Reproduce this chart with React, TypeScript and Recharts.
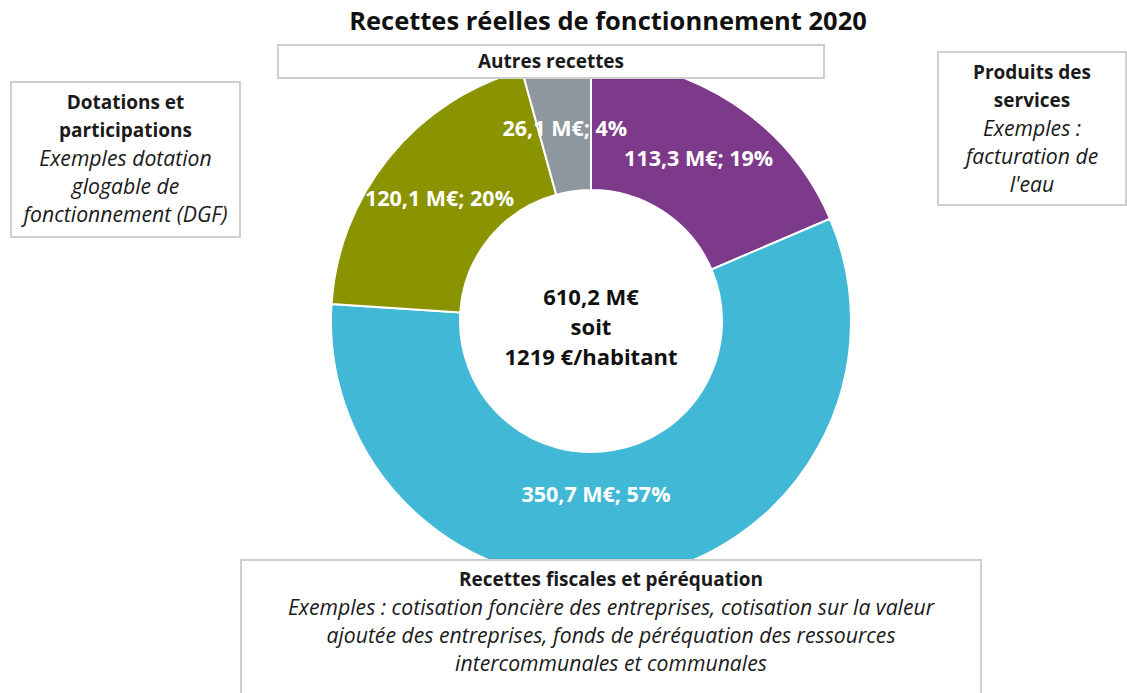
import React from 'react';
import { PieChart, Pie, Cell } from 'recharts';

const title = 'Recettes réelles de fonctionnement 2020';
const categories = [
  'Produits des services',
  'Recettes fiscales et péréquation',
  'Dotations et participations',
  'Autres recettes',
];
const values = [113.3, 350.7, 120.1, 26.1];
const colors = ['#7D3A8A', '#41B8D5', '#8A9300', '#8E979D'];
const centerLines = ['610,2 M€', 'soit', '1219 €/habitant'];

const FONT = '"Open Sans", Lato, sans-serif';

const data = categories.map((name, i) => ({ name, value: values[i] }));
const total = values.reduce((a, b) => a + b, 0);

const fmt = (v: number) => v.toFixed(1).replace('.', ',');

// label nudges (pixels) to mimic the manually placed label of the large slice
const labelNudge: Record<number, [number, number]> = { 1: [-28, -20] };

const renderLabel = (props: any) => {
  const { cx, cy, midAngle, innerRadius, outerRadius, value, index } = props;
  const RAD = Math.PI / 180;
  const r = (innerRadius + outerRadius) / 2;
  const [ndx, ndy] = labelNudge[index] || [0, 0];
  const x = cx + r * Math.cos(-midAngle * RAD) + ndx;
  const y = cy + r * Math.sin(-midAngle * RAD) + ndy;
  const pct = Math.round((value / total) * 100);
  return (
    <text
      x={x}
      y={y}
      fill="#ffffff"
      textAnchor="middle"
      dominantBaseline="central"
      fontFamily={FONT}
      fontWeight={700}
      fontSize={21.5}
    >
      {`${fmt(value)} M€; ${pct}%`}
    </text>
  );
};

const boxBase: React.CSSProperties = {
  position: 'absolute',
  background: '#ffffff',
  border: '2px solid #CFCFCF',
  boxSizing: 'border-box',
  textAlign: 'center',
  fontFamily: FONT,
  fontSize: 18,
  lineHeight: '28px',
  color: '#1a1a1a',
  whiteSpace: 'nowrap',
};

const bold: React.CSSProperties = { fontWeight: 700, fontSize: 19 };
const ital: React.CSSProperties = { fontStyle: 'italic', fontSize: 21.2 };

export default function App() {
  return (
    <div
      style={{
        position: 'absolute',
        left: 0,
        top: 0,
        width: 1127,
        height: 693,
        background: '#ffffff',
        overflow: 'hidden',
        fontFamily: FONT,
      }}
    >
      <div
        style={{
          position: 'absolute',
          left: 0,
          top: 3,
          width: 1216,
          textAlign: 'center',
          fontSize: 25.5,
          fontWeight: 700,
          color: '#111',
          lineHeight: '34px',
        }}
      >
        {title}
      </div>
      <div style={{ position: 'absolute', left: 0, top: 0 }}>
        <PieChart width={1127} height={693} margin={{ top: 0, right: 0, bottom: 0, left: 0 }}>
          <Pie
            data={data}
            dataKey="value"
            nameKey="name"
            cx={591}
            cy={321}
            innerRadius={131}
            outerRadius={260}
            startAngle={90}
            endAngle={-270}
            stroke="#ffffff"
            strokeWidth={2}
            label={renderLabel}
            labelLine={false}
            isAnimationActive={false}
          >
            {data.map((d, i) => (
              <Cell key={d.name} fill={colors[i]} />
            ))}
          </Pie>
        </PieChart>
      </div>
      <div
        style={{
          position: 'absolute',
          left: 441,
          top: 281,
          width: 300,
          textAlign: 'center',
          fontSize: 22,
          fontWeight: 700,
          lineHeight: '30px',
          color: '#111',
        }}
      >
        {centerLines.map((l) => (
          <div key={l}>{l}</div>
        ))}
      </div>
      <div
        style={{
          ...boxBase,
          left: 277,
          top: 44,
          width: 548,
          height: 35,
          lineHeight: '31px',
          ...bold,
        }}
      >
        {categories[3]}
      </div>
      <div style={{ ...boxBase, left: 10, top: 81, width: 231, height: 157, paddingTop: 5 }}>
        <div style={bold}>Dotations et</div>
        <div style={bold}>participations</div>
        <div style={ital}>Exemples dotation</div>
        <div style={ital}>glogable de</div>
        <div style={ital}>fonctionnement (DGF)</div>
      </div>
      <div style={{ ...boxBase, left: 937, top: 51, width: 190, height: 155, paddingTop: 5 }}>
        <div style={bold}>Produits des</div>
        <div style={bold}>services</div>
        <div style={ital}>Exemples :</div>
        <div style={ital}>facturation de</div>
        <div style={ital}>l'eau</div>
      </div>
      <div style={{ ...boxBase, left: 240, top: 559, width: 742, height: 160, paddingTop: 4 }}>
        <div style={bold}>{categories[1]}</div>
        <div style={ital}>
          Exemples : cotisation foncière des entreprises, cotisation sur la valeur
        </div>
        <div style={ital}>
          ajoutée des entreprises, fonds de péréquation des ressources
        </div>
        <div style={ital}>intercommunales et communales</div>
      </div>
    </div>
  );
}
